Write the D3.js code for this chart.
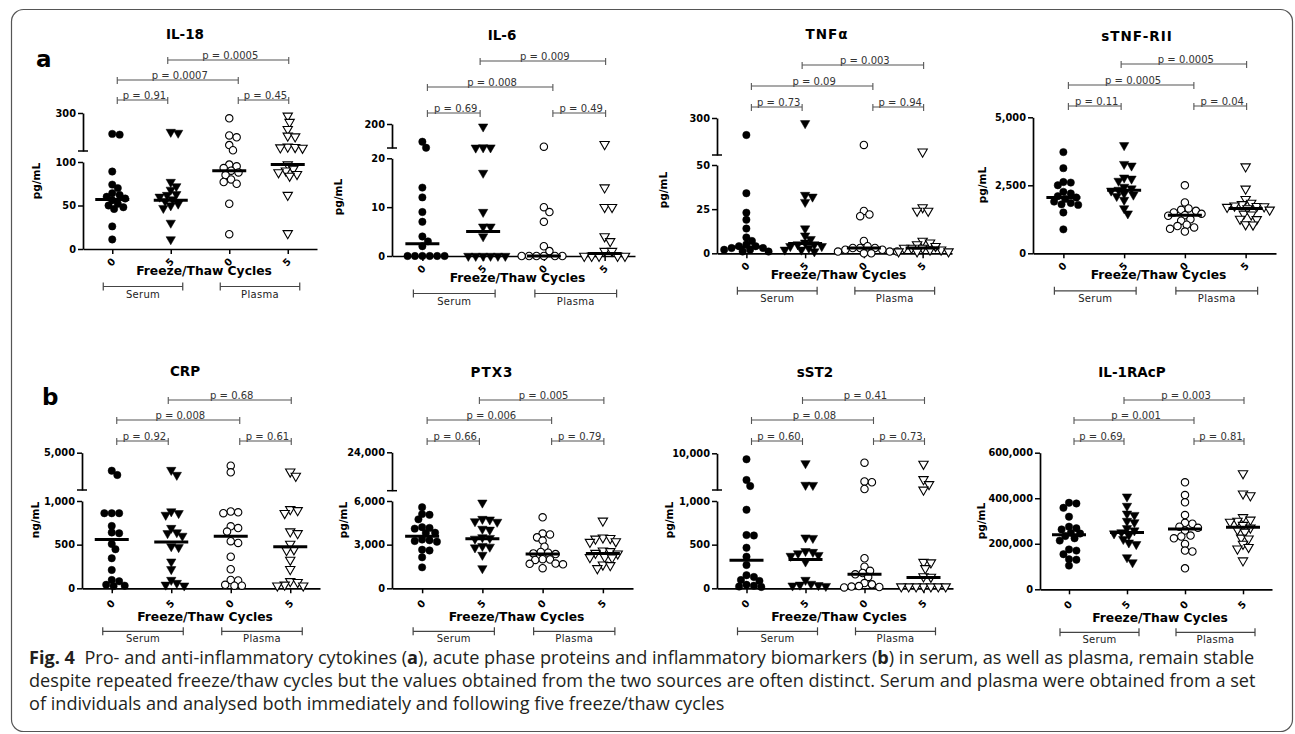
<!DOCTYPE html>
<html>
<head>
<meta charset="utf-8">
<script src="https://cdn.jsdelivr.net/npm/d3@7"></script>
<style>
  body { margin: 0; background: #fff; }
  svg { display: block; font-family: 'DejaVu Sans', sans-serif; }
</style>
</head>
<body>
<svg id="fig" width="1295" height="734"></svg>
<script>
// ---- shared labels ----
const cycleLabels = ['0', '5', '0', '5'];
const sourceLabels = ['Serum', 'Plasma'];
const xTitle = 'Freeze/Thaw Cycles';

// ---- (a) IL-18, pg/mL ----
const il18Serum0 = [190, 186, 89, 74, 70, 64, 62, 60, 58, 56, 52, 50, 48, 46, 26, 11];
const il18Serum5 = [200, 195, 77, 72, 68, 63, 62, 60, 57, 55, 52, 50, 47, 30, 11];
const il18Plasma0 = [272, 182, 172, 131, 104, 97, 95, 93, 90, 88, 85, 80, 77, 75, 52, 17];
const il18Plasma5 = [285, 252, 215, 180, 176, 122, 120, 118, 116, 97, 92, 90, 88, 86, 84, 62, 18];
const il18Medians = [57, 56, 90, 97];
const il18P = ['p = 0.91', 'p = 0.45', 'p = 0.0007', 'p = 0.0005'];

// ---- (a) IL-6, pg/mL ----
const il6Serum0 = [67, 22, 14, 12, 9, 7, 4, 3, 2, 0, 0, 0, 0, 0, 0];
const il6Serum5 = [180, 24, 23, 22, 17, 9, 6, 6, 4, 0, 0, 0, 0, 0, 0];
const il6Plasma0 = [30, 10, 9, 7, 2, 1, 0, 0, 0, 0, 0, 0];
const il6Plasma5 = [48, 14, 10, 10, 4, 3, 1, 1, 0, 0, 0, 0, 0];
const il6Medians = [2.5, 5, 0, 0.5];
const il6P = ['p = 0.69', 'p = 0.49', 'p = 0.008', 'p = 0.009'];

// ---- (a) TNFα, pg/mL ----
const tnfSerum0 = [185, 34, 23, 19, 14, 9, 7, 5, 4, 4, 3, 3, 2, 2, 1, 1];
const tnfSerum5 = [264, 33, 32, 29, 14, 10, 8, 6, 5, 5, 4, 4, 3, 2, 2, 1];
const tnfPlasma0 = [118, 24, 22, 21, 7, 4, 3, 3, 3, 2, 2, 1, 1, 1, 0, 0];
const tnfPlasma5 = [72, 26, 24, 24, 7, 6, 5, 4, 3, 3, 3, 2, 2, 1, 1, 1];
const tnfMedians = [3.5, 5.5, 3, 3];
const tnfP = ['p = 0.73', 'p = 0.94', 'p = 0.09', 'p = 0.003'];

// ---- (a) sTNF-RII, pg/mL ----
const stnfSerum0 = [3720, 3130, 2620, 2600, 2500, 2260, 2200, 2100, 2050, 2000, 1900, 1850, 1800, 1780, 1500, 880];
const stnfSerum5 = [3970, 3280, 3220, 2780, 2740, 2660, 2440, 2380, 2330, 2300, 2200, 2150, 2100, 1960, 1650, 1460];
const stnfPlasma0 = [2500, 1870, 1650, 1600, 1560, 1500, 1450, 1400, 1380, 1250, 1200, 1050, 1000, 950, 900, 800];
const stnfPlasma5 = [3190, 2370, 1990, 1850, 1800, 1750, 1730, 1720, 1700, 1650, 1600, 1450, 1420, 1260, 1250, 1060, 1050];
const stnfMedians = [2050, 2320, 1400, 1650];
const stnfP = ['p = 0.11', 'p = 0.04', 'p = 0.0005', 'p = 0.0005'];

// ---- (b) CRP, ng/mL ----
const crpSerum0 = [3070, 2610, 860, 860, 860, 714, 640, 630, 508, 447, 344, 210, 95, 80, 40, 30, 25];
const crpSerum5 = [3140, 2610, 880, 860, 840, 690, 640, 630, 600, 480, 470, 305, 218, 95, 60, 40, 30];
const crpPlasma0 = [3600, 2900, 880, 870, 860, 710, 690, 650, 540, 520, 362, 218, 95, 90, 40, 30, 30];
const crpPlasma5 = [2960, 2500, 905, 893, 860, 650, 630, 508, 445, 435, 325, 218, 80, 70, 40, 30, 30];
const crpMedians = [560, 530, 595, 475];
const crpP = ['p = 0.92', 'p = 0.61', 'p = 0.008', 'p = 0.68'];

// ---- (b) PTX3, pg/mL ----
const ptx3Serum0 = [5570, 5100, 5050, 4740, 4200, 4150, 4100, 3820, 3800, 3350, 3300, 3250, 3200, 2650, 2600, 2130, 1440];
const ptx3Serum5 = [5880, 4760, 4720, 4600, 4560, 4080, 4020, 3500, 3450, 3400, 2900, 2850, 2800, 2290, 1370];
const ptx3Plasma0 = [4880, 3760, 3700, 3500, 3280, 2860, 2500, 2450, 2400, 2350, 2000, 1980, 1950, 1700, 1680, 1650, 1380];
const ptx3Plasma5 = [4640, 3480, 3440, 3400, 3220, 3180, 2580, 2540, 2420, 2380, 2150, 2130, 2100, 1620, 1580, 1370];
const ptx3Medians = [3580, 3400, 2350, 2400];
const ptx3P = ['p = 0.66', 'p = 0.79', 'p = 0.006', 'p = 0.005'];

// ---- (b) sST2, pg/mL ----
const sst2Serum0 = [8530, 3450, 1980, 900, 610, 605, 465, 362, 267, 150, 130, 95, 85, 40, 30, 20, 15];
const sst2Serum5 = [7540, 2230, 2200, 580, 575, 425, 415, 400, 380, 370, 305, 95, 50, 40, 35, 30, 25];
const sst2Plasma0 = [7700, 3100, 2900, 1240, 344, 248, 200, 175, 160, 130, 60, 45, 25, 20, 15, 10];
const sst2Plasma5 = [7380, 3620, 2400, 1050, 300, 295, 229, 135, 130, 20, 20, 20, 20, 20, 20, 20];
const sst2Medians = [320, 330, 160, 125];
const sst2P = ['p = 0.60', 'p = 0.73', 'p = 0.08', 'p = 0.41'];

// ---- (b) IL-1RAcP, pg/mL ----
const il1Serum0 = [380000, 377000, 358000, 319000, 275000, 268000, 263000, 248000, 245000, 234000, 224000, 214000, 175000, 170000, 154000, 132000, 130000, 104000];
const il1Serum5 = [407000, 366000, 332000, 326000, 300000, 294000, 268000, 258000, 250000, 245000, 238000, 220000, 205000, 198000, 140000, 118000];
const il1Plasma0 = [470000, 414000, 382000, 326000, 292000, 288000, 275000, 270000, 258000, 236000, 232000, 224000, 199000, 170000, 166000, 92000];
const il1Plasma5 = [509000, 420000, 412000, 316000, 305000, 300000, 296000, 282000, 270000, 262000, 252000, 226000, 222000, 199000, 185000, 178000, 126000];
const il1Medians = [240000, 250000, 265000, 272000];
const il1P = ['p = 0.69', 'p = 0.81', 'p = 0.001', 'p = 0.003'];

// ---- caption ----
const captionLines = [
  [['Fig. 4', true], ['  Pro- and anti-inflammatory cytokines (', false], ['a', true], ['), acute phase proteins and inflammatory biomarkers (', false], ['b', true], [') in serum, as well as plasma, remain stable', false]],
  [['despite repeated freeze/thaw cycles but the values obtained from the two sources are often distinct. Serum and plasma were obtained from a set', false]],
  [['of individuals and analysed both immediately and following five freeze/thaw cycles', false]]
];

// ---- panel setup (scales / layout) ----
const rowA = { label: 13, title: 26, bracket: 37.5, source: 48.5 };
const rowB = { label: 15.5, title: 33, bracket: 43, source: 54 };

const panels = [
  { name: 'IL-18', unit: 'pg/mL', groups: [il18Serum0, il18Serum5, il18Plasma0, il18Plasma5], medians: il18Medians, pvals: il18P,
    lower: [0, 100], lowerTicks: [0, 50, 100], upper: [100, 300], upperTicks: [300],
    x: [83, 317], y0: 249, yLowTop: 162, yUp: [151, 113], titlePos: [185, 39], unitPos: [36, 181], brY: [100, 80, 60], row: rowA, letter: 'a' },
  { name: 'IL-6', unit: 'pg/mL', groups: [il6Serum0, il6Serum5, il6Plasma0, il6Plasma5], medians: il6Medians, pvals: il6P,
    lower: [0, 20], lowerTicks: [0, 10, 20], upper: [20, 200], upperTicks: [200],
    x: [392, 635], y0: 256, yLowTop: 158.3, yUp: [148, 124], titlePos: [502, 40], unitPos: [338, 197], brY: [113, 87, 61], row: rowA },
  { name: 'TNFα', unit: 'pg/mL', groups: [tnfSerum0, tnfSerum5, tnfPlasma0, tnfPlasma5], medians: tnfMedians, pvals: tnfP,
    lower: [0, 50], lowerTicks: [0, 25, 50], upper: [50, 300], upperTicks: [300],
    x: [717, 952], y0: 253.3, yLowTop: 165, yUp: [155, 118], titlePos: [827, 39], unitPos: [663, 190], brY: [107, 86, 65], row: rowA, spaced: true },
  { name: 'sTNF-RII', unit: 'pg/mL', groups: [stnfSerum0, stnfSerum5, stnfPlasma0, stnfPlasma5], medians: stnfMedians, pvals: stnfP,
    lower: [0, 5000], lowerTicks: [0, 2500, 5000], upper: null,
    x: [1033, 1276], y0: 253.3, yLowTop: 117.3, titlePos: [1137, 41], unitPos: [982, 185], brY: [106, 85, 64], row: rowA, spaced: true },
  { name: 'CRP', unit: 'ng/mL', groups: [crpSerum0, crpSerum5, crpPlasma0, crpPlasma5], medians: crpMedians, pvals: crpP,
    lower: [0, 1000], lowerTicks: [0, 500, 1000], upper: [1000, 5000], upperTicks: [5000],
    x: [82, 320], y0: 588.3, yLowTop: 501, yUp: [490, 452.7], titlePos: [185, 376], unitPos: [35, 520], brY: [441, 420, 400], row: rowB, letter: 'b' },
  { name: 'PTX3', unit: 'pg/mL', groups: [ptx3Serum0, ptx3Serum5, ptx3Plasma0, ptx3Plasma5], medians: ptx3Medians, pvals: ptx3P,
    lower: [0, 6000], lowerTicks: [0, 3000, 6000], upper: [6000, 24000], upperTicks: [24000],
    x: [392, 633], y0: 588.3, yLowTop: 501, yUp: [490.7, 452.3], titlePos: [492, 377], unitPos: [343, 520], brY: [441, 420, 400], row: rowB, spaced: true },
  { name: 'sST2', unit: 'pg/mL', groups: [sst2Serum0, sst2Serum5, sst2Plasma0, sst2Plasma5], medians: sst2Medians, pvals: sst2P,
    lower: [0, 1000], lowerTicks: [0, 500, 1000], upper: [1000, 10000], upperTicks: [10000],
    x: [717, 953], y0: 588.3, yLowTop: 501, yUp: [490, 453.3], titlePos: [815, 377], unitPos: [669, 520], brY: [441, 420, 400], row: rowB },
  { name: 'IL-1RAcP', unit: 'pg/mL', groups: [il1Serum0, il1Serum5, il1Plasma0, il1Plasma5], medians: il1Medians, pvals: il1P,
    lower: [0, 600000], lowerTicks: [0, 200000, 400000, 600000], upper: null,
    x: [1040, 1272], y0: 589.3, yLowTop: 452.7, titlePos: [1132, 377], unitPos: [981, 521], brY: [441, 420, 400], row: rowB }
];

const svg = d3.select('#fig');
const fmt = d3.format(',');
const R = 3.7;

// frame
svg.append('rect')
  .attr('x', 11.5).attr('y', 9.5).attr('width', 1281).attr('height', 722).attr('rx', 12)
  .attr('fill', 'none').attr('stroke', '#555').attr('stroke-width', 1.2);

// simple beeswarm: each point goes to the nearest free slot around the column centre
function swarm(values, cx, yPos) {
  const pts = values.map((v) => ({ v, y: yPos(v) })).sort((a, b) => a.y - b.y);
  const placed = [];
  const minD = 2 * R * 0.85;
  pts.forEach((p) => {
    for (let k = 0; k < 80; k += 1) {
      const off = (k % 2 ? 1 : -1) * Math.ceil(k / 2) * (R / 2);
      const x = cx + off;
      const ok = placed.every((q) => (q.x - x) ** 2 + (q.y - p.y) ** 2 >= minD ** 2);
      if (ok) { p.x = x; break; }
    }
    placed.push(p);
  });
  return placed;
}

function drawPanel(cfg) {
  const g = svg.append('g');
  const xs = d3.scalePoint().domain(d3.range(4)).range(cfg.x).padding(0.5);
  const lowerScale = d3.scaleLinear().domain(cfg.lower).range([cfg.y0, cfg.yLowTop]);
  const upperScale = cfg.upper ? d3.scaleLinear().domain(cfg.upper).range(cfg.yUp) : null;
  const yPos = (v) => (upperScale && v > cfg.lower[1] ? upperScale(v) : lowerScale(v));
  const ax = cfg.x[0];

  // title
  g.append('text')
    .attr('x', cfg.titlePos[0]).attr('y', cfg.titlePos[1])
    .attr('text-anchor', 'middle').attr('font-weight', 'bold').attr('font-size', 13.5)
    .attr('letter-spacing', cfg.spaced ? 1 : 0)
    .text(cfg.name);

  if (cfg.letter) {
    g.append('text')
      .attr('x', cfg.letter === 'a' ? 36 : 42).attr('y', cfg.letter === 'a' ? 67 : 405)
      .attr('font-weight', 'bold').attr('font-size', 23)
      .text(cfg.letter);
  }

  // y axis (segmented when there is a break)
  const yLow = g.append('g').attr('transform', `translate(${ax},0)`)
    .call(d3.axisLeft(lowerScale).tickValues(cfg.lowerTicks).tickFormat(fmt).tickSize(5).tickSizeOuter(0));
  const axes = [yLow];
  if (upperScale) {
    const yUp = g.append('g').attr('transform', `translate(${ax},0)`)
      .call(d3.axisLeft(upperScale).tickValues(cfg.upperTicks).tickFormat(fmt).tickSize(5).tickSizeOuter(0));
    axes.push(yUp);
    g.append('line').attr('x1', ax - 5).attr('x2', ax + 5)
      .attr('y1', cfg.yUp[0]).attr('y2', cfg.yUp[0]).attr('stroke', '#000').attr('stroke-width', 1.5);
  }
  axes.forEach((a) => {
    a.select('.domain').attr('stroke-width', 1.7);
    a.selectAll('.tick line').attr('stroke-width', 1.5);
    a.selectAll('.tick text').attr('font-size', 9.8).attr('font-weight', 'bold').attr('font-family', 'DejaVu Sans').attr('fill', '#000').attr('x', -7);
  });

  // unit label
  g.append('text')
    .attr('transform', `translate(${cfg.unitPos[0]},${cfg.unitPos[1]}) rotate(-90)`)
    .attr('text-anchor', 'middle').attr('dominant-baseline', 'central')
    .attr('font-weight', 'bold').attr('font-size', 10.5)
    .text(cfg.unit);

  // x axis
  const xa = g.append('g').attr('transform', `translate(0,${cfg.y0})`)
    .call(d3.axisBottom(xs).tickSize(5).tickSizeOuter(0).tickFormat(''));
  xa.select('.domain').attr('stroke-width', 1.7);
  xa.selectAll('.tick line').attr('stroke-width', 1.5);

  g.selectAll('.cyc')
    .data(cycleLabels)
    .join('text')
    .attr('transform', (d, i) => `translate(${xs(i) - 1},${cfg.y0 + cfg.row.label}) rotate(-45)`)
    .attr('text-anchor', 'middle').attr('dominant-baseline', 'central')
    .attr('font-weight', 'bold').attr('font-size', 9.8)
    .text((d) => d);

  g.append('text')
    .attr('x', (xs(0) + xs(3)) / 2 + 4).attr('y', cfg.y0 + cfg.row.title)
    .attr('text-anchor', 'middle').attr('font-weight', 'bold').attr('font-size', 12.3)
    .text(xTitle);

  // serum / plasma brackets
  sourceLabels.forEach((s, k) => {
    const x1 = xs(2 * k) - 9;
    const x2 = xs(2 * k + 1) + 12;
    const yb = cfg.y0 + cfg.row.bracket;
    const bg = g.append('g').attr('stroke', '#444').attr('stroke-width', 1.2);
    bg.append('line').attr('x1', x1).attr('x2', x2).attr('y1', yb).attr('y2', yb);
    bg.append('line').attr('x1', x1).attr('x2', x1).attr('y1', yb - 4).attr('y2', yb + 4);
    bg.append('line').attr('x1', x2).attr('x2', x2).attr('y1', yb - 4).attr('y2', yb + 4);
    g.append('text')
      .attr('x', (x1 + x2) / 2).attr('y', cfg.y0 + cfg.row.source)
      .attr('text-anchor', 'middle').attr('font-size', 10).attr('fill', '#222')
      .attr('letter-spacing', 0.3)
      .text(s);
  });

  // p-value brackets
  const ends = [xs(0) + 5, xs(1) - 3, xs(2) + 9, xs(3) + 1];
  const pairs = [[0, 1, 0], [2, 3, 0], [0, 2, 1], [1, 3, 2]];
  pairs.forEach(([a, b, lev], k) => {
    const y = cfg.brY[lev];
    const pg = g.append('g').attr('stroke', '#555').attr('stroke-width', 1.1);
    pg.append('line').attr('x1', ends[a]).attr('x2', ends[b]).attr('y1', y).attr('y2', y);
    pg.append('line').attr('x1', ends[a]).attr('x2', ends[a]).attr('y1', y - 3).attr('y2', y + 4);
    pg.append('line').attr('x1', ends[b]).attr('x2', ends[b]).attr('y1', y - 3).attr('y2', y + 4);
    g.append('text')
      .attr('x', (ends[a] + ends[b]) / 2 + 2).attr('y', y - 1)
      .attr('text-anchor', 'middle').attr('font-size', 10).attr('fill', '#333')
      .text(cfg.pvals[k]);
  });

  // points
  const circle = d3.symbol().type(d3.symbolCircle).size(Math.PI * R * R);
  const tri = d3.symbol().type(d3.symbolTriangle).size(38);
  cfg.groups.forEach((vals, gi) => {
    const pts = swarm(vals, xs(gi), yPos);
    const filled = gi < 2;
    g.append('g').selectAll('path')
      .data(pts)
      .join('path')
      .attr('d', gi % 2 === 0 ? circle : tri)
      .attr('transform', (d) => `translate(${d.x},${d.y})${gi % 2 ? ' rotate(180)' : ''}`)
      .attr('fill', filled ? '#000' : '#fff')
      .attr('stroke', '#000')
      .attr('stroke-width', filled ? 0.5 : 1.1);
  });

  // medians
  g.append('g').selectAll('line')
    .data(cfg.medians)
    .join('line')
    .attr('x1', (d, i) => xs(i) - 17).attr('x2', (d, i) => xs(i) + 17)
    .attr('y1', (d) => yPos(d)).attr('y2', (d) => yPos(d))
    .attr('stroke', '#000').attr('stroke-width', 3);
}

panels.forEach(drawPanel);

// caption
const cap = svg.append('g').attr('fill', '#231f20')
  .style('font-family', "'Open Sans', 'Noto Sans', sans-serif").attr('font-size', 17.5);
const capBase = [664, 687, 710];
const lines = captionLines.map((segs, i) => {
  const t = cap.append('text').attr('x', 0).attr('y', capBase[i]).attr('xml:space', 'preserve');
  segs.forEach(([s, b]) => {
    t.append('tspan').attr('font-weight', b ? 'bold' : 'normal').text(s);
  });
  return t;
});
const natural = lines[0].node().getComputedTextLength();
const sx = (1255 - 29) / natural;
cap.attr('transform', `translate(29,0) scale(${sx},1)`);
</script>
</body>
</html>
